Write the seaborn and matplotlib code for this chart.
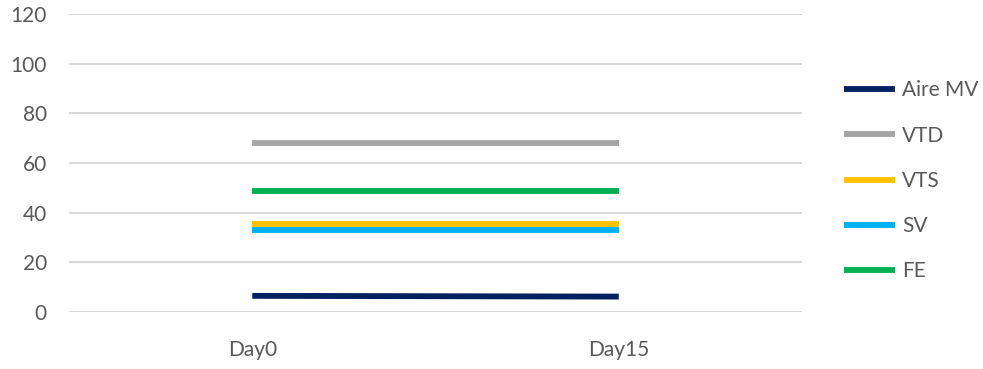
import matplotlib
matplotlib.use("Agg")
import matplotlib.pyplot as plt
import seaborn as sns
import pandas as pd

days = ["Day0", "Day15"]
aire_mv = [6.5, 6.2]
vtd = [68.0, 68.0]
vts = [35.3, 35.3]
sv = [33.1, 33.1]
fe = [48.7, 48.7]

series_names = ["Aire MV", "VTD", "VTS", "SV", "FE"]
series_values = [aire_mv, vtd, vts, sv, fe]
colors = ["#002060", "#A5A5A5", "#FFC000", "#00B0F0", "#00B050"]

rows = []
for name, vals in zip(series_names, series_values):
    for d, v in zip(days, vals):
        rows.append({"day": d, "value": v, "series": name})
df = pd.DataFrame(rows)

sns.set_theme(style="white")
plt.rcParams["font.family"] = ["Lato", "DejaVu Sans"]
plt.rcParams["lines.solid_capstyle"] = "butt"

fig = plt.figure(figsize=(9.83, 3.69), dpi=100)
ax = fig.add_axes([0.0702, 0.1545, 0.7457, 0.8075])

sns.lineplot(data=df, x="day", y="value", hue="series", hue_order=series_names,
             palette=colors, linewidth=4.2, ax=ax, sort=False)
for ln in ax.get_lines():
    ln.set_solid_capstyle("butt")

ax.set_xlim(-0.5, 1.5)
ax.set_ylim(0, 120)
ax.set_yticks(range(0, 121, 20))
ax.yaxis.grid(True, color="#D9D9D9", linewidth=1.5)
ax.xaxis.grid(False)
for s in ax.spines.values():
    s.set_visible(False)
ax.set_xlabel("")
ax.set_ylabel("")
ax.tick_params(axis="y", length=0, pad=16, labelsize=15, labelcolor="#595959")
ax.tick_params(axis="x", length=0, pad=20, labelsize=15, labelcolor="#595959")

handles, labels = ax.get_legend_handles_labels()
for h in handles:
    h.set_solid_capstyle("butt")
ax.legend(handles, labels, loc="upper left", bbox_to_anchor=(1.057, 0.777),
          frameon=False, fontsize=15, labelcolor="#595959",
          handlelength=2.45, handletextpad=0.35, labelspacing=1.21,
          borderaxespad=0, borderpad=0)

fig.savefig("out.png", dpi=100)
